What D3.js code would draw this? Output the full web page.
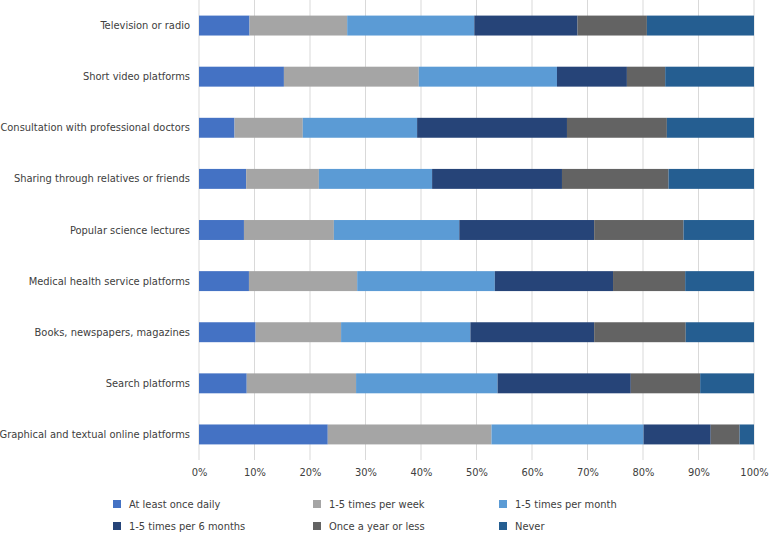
<!DOCTYPE html>
<html>
<head>
<meta charset="utf-8">
<script src="https://cdn.jsdelivr.net/npm/d3@7"></script>
<style>
  body { margin: 0; background: #fff; }
  svg text { font-family: "DejaVu Sans Condensed", "Liberation Sans", sans-serif; fill: #404040; }
</style>
</head>
<body>
<div class="chart"></div>
<script>
const categories = [
    "Television or radio",
    "Short video platforms",
    "Consultation with professional doctors",
    "Sharing through relatives or friends",
    "Popular science lectures",
    "Medical health service platforms",
    "Books, newspapers, magazines",
    "Search platforms",
    "Graphical and textual online platforms"
];

const seriesNames = [
    "At least once daily",
    "1-5 times per week",
    "1-5 times per month",
    "1-5 times per 6 months",
    "Once a year or less",
    "Never"
];

// percentages per category, in series order
const dailyValues   = [9.1, 15.3, 6.4, 8.5, 8.1, 9.0, 10.2, 8.6, 23.2];
const weeklyValues  = [17.6, 24.3, 12.3, 13.1, 16.2, 19.5, 15.4, 19.7, 29.5];
const monthlyValues = [22.9, 24.9, 20.6, 20.4, 22.6, 24.8, 23.3, 25.5, 27.4];
const halfYearValues = [18.6, 12.6, 27.0, 23.4, 24.3, 21.3, 22.3, 24.0, 12.1];
const yearlyValues  = [12.5, 6.9, 18.0, 19.2, 16.1, 13.0, 16.5, 12.5, 5.2];
const neverValues   = [19.3, 16.0, 15.7, 15.4, 12.7, 12.4, 12.3, 9.7, 2.6];

const tickValues = [0, 0.1, 0.2, 0.3, 0.4, 0.5, 0.6, 0.7, 0.8, 0.9, 1.0];

const colors = ["#4472C4", "#A5A5A5", "#5B9BD5", "#264478", "#636363", "#255E91"];

const allSeries = [dailyValues, weeklyValues, monthlyValues, halfYearValues, yearlyValues, neverValues];
const rows = categories.map((c, i) => {
    const row = { category: c };
    seriesNames.forEach((s, j) => row[s] = allSeries[j][i]);
    return row;
});

const width = 771, height = 534;
const margin = { top: 0, right: 17, bottom: 74, left: 199 };
const innerW = width - margin.left - margin.right;
const innerH = height - margin.top - margin.bottom;

const svg = d3.select(".chart")
    .append("svg")
    .attr("width", width)
    .attr("height", height);

const g = svg.append("g")
    .attr("transform", `translate(${margin.left}, ${margin.top})`);

const x = d3.scaleLinear().domain([0, 1]).range([0, innerW]);
const y = d3.scaleBand().domain(categories).range([0, innerH])
    .paddingInner(0.61).paddingOuter(0.305);

const stack = d3.stack().keys(seriesNames).offset(d3.stackOffsetExpand);
const stacked = stack(rows);

// gridlines
g.selectAll(".grid")
    .data(tickValues)
    .join("line")
    .attr("class", "grid")
    .attr("x1", d => x(d)).attr("x2", d => x(d))
    .attr("y1", 0).attr("y2", innerH)
    .attr("stroke", "#D9D9D9")
    .attr("stroke-width", 1);

g.selectAll(".series")
    .data(stacked)
    .join("g")
    .attr("class", "series")
    .attr("fill", (d, i) => colors[i])
    .selectAll("rect")
    .data(d => d)
    .join("rect")
    .attr("x", d => x(d[0]))
    .attr("width", d => x(d[1]) - x(d[0]))
    .attr("y", d => y(d.data.category))
    .attr("height", y.bandwidth());

// x axis
const xAxis = g.append("g")
    .attr("transform", `translate(0, ${innerH})`)
    .call(d3.axisBottom(x).tickValues(tickValues).tickFormat(d3.format(".0%")).tickSize(0).tickPadding(8));
xAxis.select(".domain").remove();
xAxis.selectAll("text").style("font-size", "11px").style("font-family", null).attr("fill", "#404040");

// y axis
const yAxis = g.append("g")
    .call(d3.axisLeft(y).tickSize(0).tickPadding(9));
yAxis.select(".domain").remove();
yAxis.selectAll("text").style("font-size", "11px").style("font-family", null).attr("fill", "#404040");

// legend
const legendPos = [[113, 504], [313, 504], [499, 504], [113, 526], [313, 526], [499, 526]];
const legend = svg.selectAll(".legend")
    .data(seriesNames)
    .join("g")
    .attr("class", "legend")
    .attr("transform", (d, i) => `translate(${legendPos[i][0]}, ${legendPos[i][1]})`);

legend.append("rect")
    .attr("x", 0).attr("y", -4)
    .attr("width", 8).attr("height", 8)
    .attr("fill", (d, i) => colors[i]);

legend.append("text")
    .attr("x", 16)
    .attr("y", 0)
    .attr("dy", "0.35em")
    .style("font-size", "11px")
    .text(d => d);
</script>
</body>
</html>
